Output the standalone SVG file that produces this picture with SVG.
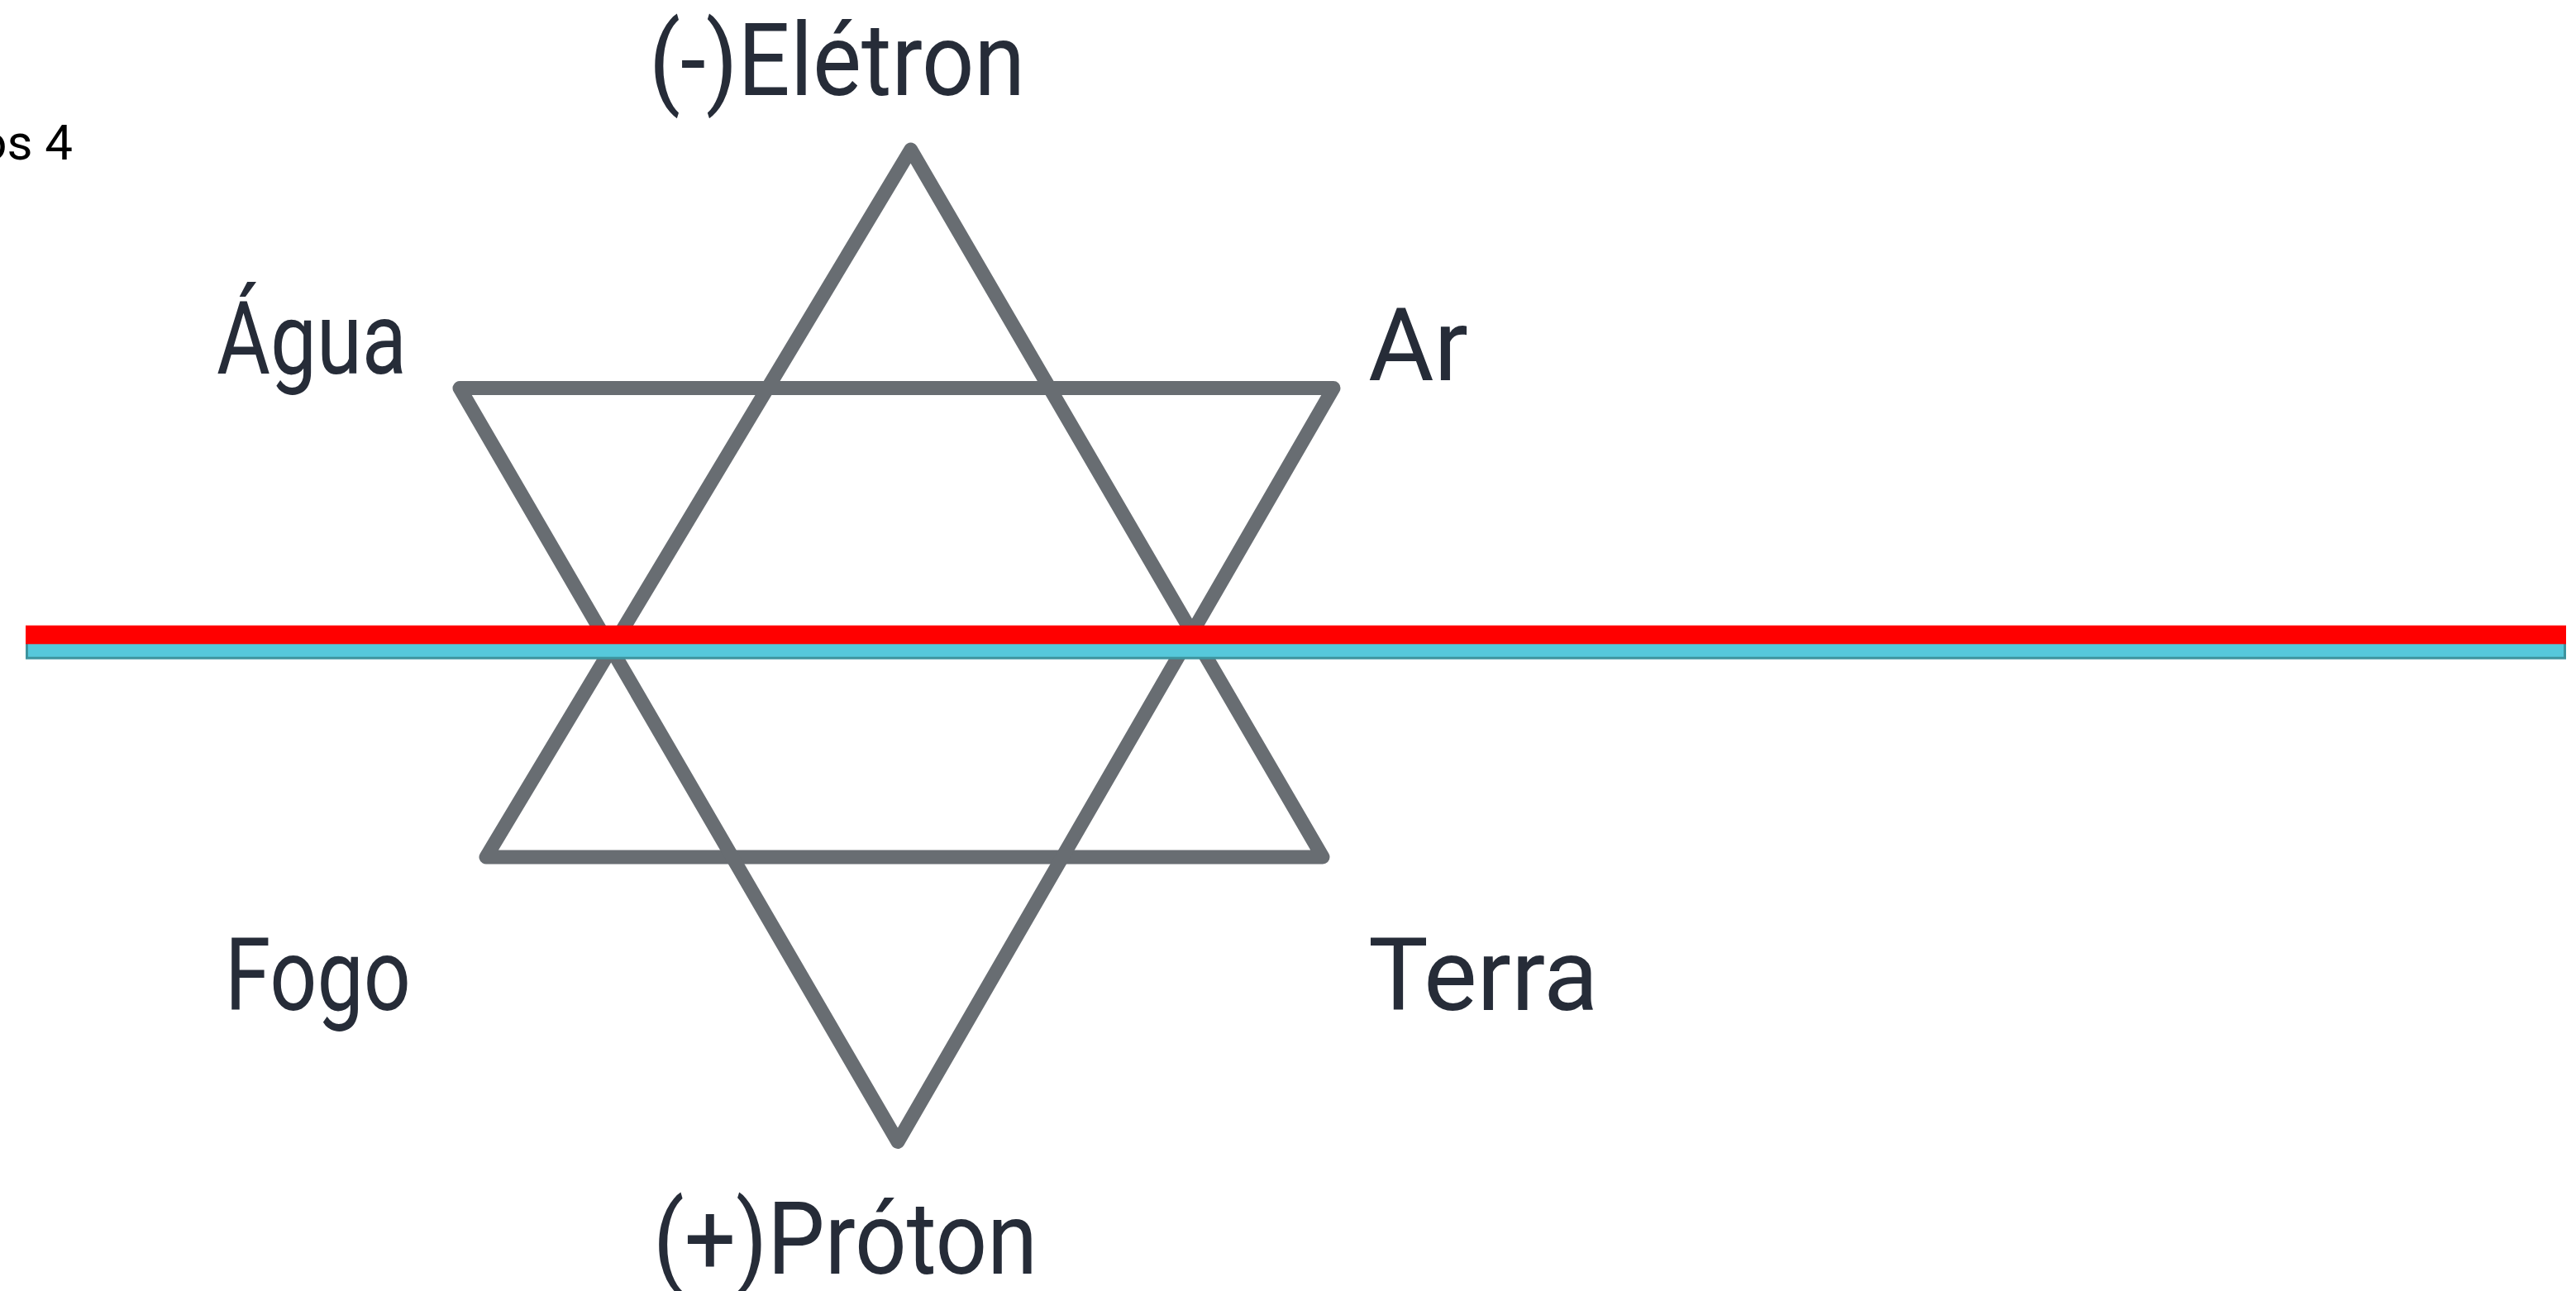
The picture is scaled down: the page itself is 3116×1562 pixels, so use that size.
<svg xmlns="http://www.w3.org/2000/svg" width="3116" height="1562" viewBox="0 0 3116 1562">
  <style>
    .lbl { font-family: Roboto, "Liberation Sans", sans-serif; font-size: 122px; fill: #262c38; }
    .tri { fill: none; stroke: #686d72; stroke-width: 17; stroke-linejoin: round; stroke-linecap: round; }
  </style>
  <rect x="0" y="0" width="3116" height="1562" fill="#ffffff"/>
  <text x="88" y="193" text-anchor="end" style="font-family: Roboto, 'Liberation Sans', sans-serif; font-size: 60px; fill: #000000;">os 4</text>
  <g id="connectors">
    <polygon id="tri-up" class="tri" points="1101.7,181 588,1037 1600,1037"/>
    <polygon id="tri-down" class="tri" points="556,469.5 1613,469.5 1086,1381.5"/>
  </g>
  <g id="bar">
    <rect x="32.5" y="759" width="3070" height="37.2" fill="#56c8db" stroke="#3d939e" stroke-width="3"/>
    <rect x="31" y="756.7" width="3073" height="22.6" fill="#ff0000"/>
  </g>
  <g id="node-eletron"><text class="lbl" x="785" y="115" textLength="455" lengthAdjust="spacingAndGlyphs">(-)Elétron</text></g>
  <g id="node-agua"><text class="lbl" x="262" y="452" textLength="230" lengthAdjust="spacingAndGlyphs">Água</text></g>
  <g id="node-ar"><text class="lbl" x="1655" y="460">Ar</text></g>
  <g id="node-fogo"><text class="lbl" x="272" y="1222" textLength="225" lengthAdjust="spacingAndGlyphs">Fogo</text></g>
  <g id="node-terra"><text class="lbl" x="1655" y="1222">Terra</text></g>
  <g id="node-proton"><text class="lbl" x="790" y="1541" textLength="465" lengthAdjust="spacingAndGlyphs">(+)Próton</text></g>
</svg>
